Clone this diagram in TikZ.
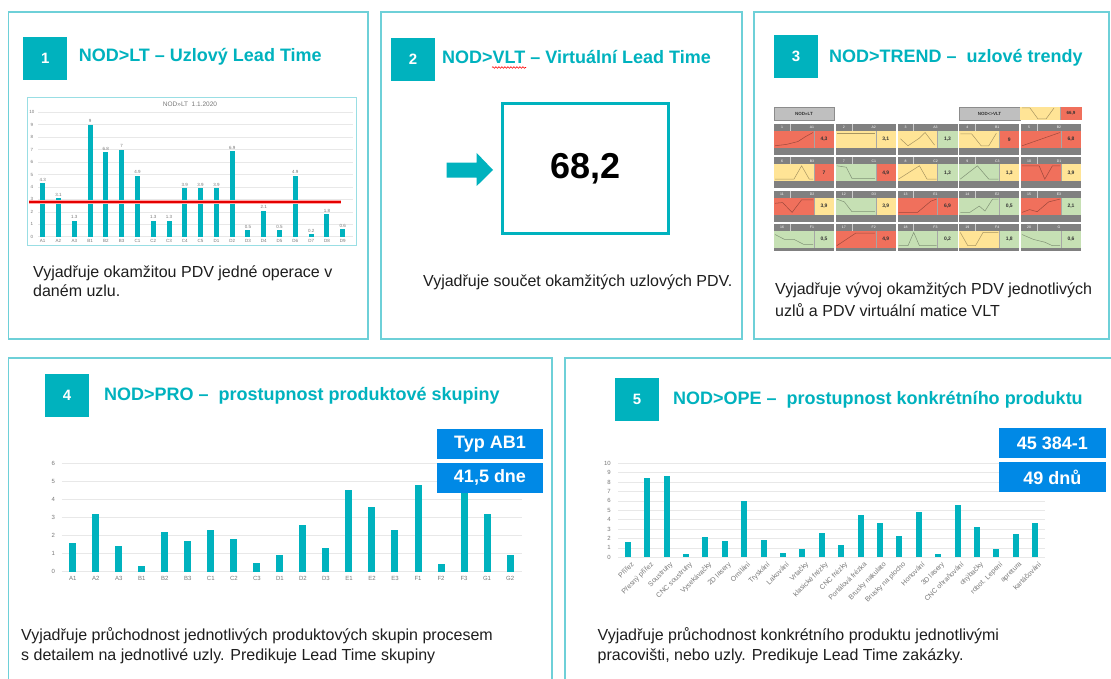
\documentclass[tikz,border=0pt]{standalone}
\usepackage{fontspec}
\setmainfont{Liberation Sans}
\usetikzlibrary{decorations.pathmorphing}
\definecolor{teal1}{RGB}{0,178,190}
\definecolor{pborder}{RGB}{110,208,216}
\definecolor{badge}{RGB}{0,137,230}
\definecolor{tred}{RGB}{240,112,92}
\definecolor{tyel}{RGB}{255,228,150}
\definecolor{tgrn}{RGB}{198,224,180}
\definecolor{tgrey}{RGB}{128,128,128}
\definecolor{axgrey}{RGB}{120,120,120}
\definecolor{gridc}{RGB}{232,232,232}
\definecolor{txt}{RGB}{30,30,30}
\tikzset{
  panel/.style={draw=pborder, line width=1.2pt},
  numsq/.style={fill=teal1, minimum width=44pt, minimum height=43pt, inner sep=0pt, text=white, font=\fontsize{15}{18}\selectfont\bfseries},
  ptitle/.style={text=teal1, font=\fontsize{18}{21}\selectfont\bfseries, anchor=base west, inner sep=0pt},
  body/.style={font=\fontsize{16}{19}\selectfont, anchor=base west, inner sep=0pt, text=txt},
  bar/.style={fill=teal1},
  ax/.style={font=\fontsize{6}{7}\selectfont, text=axgrey, inner sep=0pt},
  vlab/.style={font=\fontsize{4.5}{5}\selectfont, text=axgrey, inner sep=0pt, anchor=south},
  gridl/.style={draw=gridc, line width=0.8pt},
  badgebox/.style={fill=badge, text=white, font=\fontsize{18}{21}\selectfont\bfseries, minimum width=106.6pt, minimum height=30pt, inner sep=0pt},
  tnum/.style={font=\fontsize{3.5}{4}\selectfont, text=white, inner sep=0pt},
  tval/.style={font=\fontsize{5}{6}\selectfont\bfseries, text=black!80, inner sep=0pt},
  spark/.style={draw=black, draw opacity=0.35, line width=0.5pt},
}
\newcommand\trtile[8]{%
  \begin{scope}[shift={({774+#1*61.75},{124+#2*33.3})}]
    \fill[tgrey] (0,0) rectangle (60,7);
    \fill[#5] (0,7) rectangle (40,24);
    \fill[#6] (40,7) rectangle (60,24);
    \draw[black!35, line width=0.5pt] (40,7) -- (40,24);
    \fill[tgrey] (0,24) rectangle (60,31);
    \draw[white!60!tgrey, line width=0.4pt] (16,0) -- (16,7);
    \node[tnum] (tn#3) at (8,3.5) {#3};
    \node[tnum] (tl#3) at (38,3.5) {#4};
    \node[tval] (tv#3) at (50,15.5) {#7};
    \begin{scope}[shift={(1,22.5)}, xscale=38, yscale=-14]
      \draw[spark] plot coordinates {#8};
    \end{scope}
  \end{scope}}
\begin{document}
\begin{tikzpicture}[x=1pt,y=-1pt]
\useasboundingbox (0,0) rectangle (1111,679);
\fill[white] (0,0) rectangle (1111,679);
\begin{scope}
\clip (0,0) rectangle (1111,679);
% ---------- panels ----------
\draw[panel] (8.6,12) rectangle (368,339);
\draw[panel] (381,12) rectangle (742,339);
\draw[panel] (754,12) rectangle (1109,339);
\draw[panel] (8.6,358) rectangle (552,690);
\draw[panel] (565,358) rectangle (1120,690);

% ---------- headers ----------
\node[numsq] (n1) at (45.2,58.5) {1};
\node[ptitle] (t1) at (78.6,61.7) {NOD>LT – Uzlový Lead Time};
\node[numsq] (n2) at (413,59.5) {2};
\node[ptitle] (t2) at (442,64) {NOD>VLT – Virtuální Lead Time};
\coordinate (wv1) at (492,67.5);
\coordinate (wv2) at (526,67.5);
\draw[red, line width=0.6pt, decorate, decoration={snake, amplitude=0.8pt, segment length=3pt}] (wv1) -- (wv2);
\node[numsq] (n3) at (796,56.5) {3};
\node[ptitle] (t3) at (829,62.5) {NOD>TREND –~ uzlové trendy};
\node[numsq] (n4) at (67,395) {4};
\node[ptitle] (t4) at (104,400) {NOD>PRO –~ prostupnost produktové skupiny};
\node[numsq] (n5) at (637,399.5) {5};
\node[ptitle] (t5) at (673,404.5) {NOD>OPE –~ prostupnost konkrétního produktu};

% ---------- panel 1 chart ----------
\draw[draw=pborder!70, line width=0.8pt] (27,97.7) rectangle (356,245);
\node[font=\fontsize{6.5}{8}\selectfont, text=axgrey, inner sep=0pt] (c1t) at (190,104.3) {NOD>>LT~ 1.1.2020};
\foreach \k in {0,...,10} {
  \draw[gridl, line width=0.5pt] (38,{236.7-\k*12.44}) -- (353,{236.7-\k*12.44});
  \node[ax, font=\fontsize{4.5}{5}\selectfont] (c1y\k) at (32,{236.7-\k*12.44}) {\k};
}
\foreach \v/\l [count=\i from 0] in {4.3/A1,3.1/A2,1.3/A3,9/B1,6.8/B2,7/B3,4.9/C1,1.3/C2,1.3/C3,3.9/C4,3.9/C5,3.9/D1,6.9/D2,0.5/D3,2.1/D4,0.5/D5,4.9/D6,0.2/D7,1.8/D8,0.6/D9} {
  \fill[bar] ({42.7+\i*15.79-2.5},236.7) rectangle ({42.7+\i*15.79+2.5},{236.7-\v*12.44});
  \node[vlab] (c1v\i) at ({42.7+\i*15.79},{235.2-\v*12.44}) {\v};
  \node[ax, font=\fontsize{4.5}{5}\selectfont] (c1x\i) at ({42.7+\i*15.79},240.7) {\l};
}
\coordinate (rl1) at (29.3,202.3);
\coordinate (rl2) at (340.7,202.3);
\draw[red!35, line width=4pt] (rl1) -- (rl2);
\draw[red!90!black, line width=2.2pt] (rl1) -- (rl2);
\node[body] (b1a) at (33,277.5) {Vyjadřuje okamžitou PDV jedné operace v};
\node[body] (b1b) at (33,296.5) {daném uzlu.};

% ---------- panel 2 ----------
\fill[teal1] (446.7,162.7) -- (476.7,162.7) -- (476.7,153) -- (493,170) -- (476.7,186) -- (476.7,177.7) -- (446.7,177.7) -- cycle;
\node[draw=teal1, line width=3pt, minimum width=166pt, minimum height=130pt, inner sep=0pt, font=\fontsize{36}{40}\selectfont\bfseries] (vlt) at (585.3,168.3) {68,2};
\node[body] (b2a) at (423,286.5) {Vyjadřuje součet okamžitých uzlových PDV.};

% ---------- panel 3 ----------
\node[draw=black!45, fill=black!25, line width=0.6pt, minimum width=60pt, minimum height=13pt, inner sep=0pt, font=\fontsize{4.5}{5}\selectfont\bfseries, text=black!80] (h1) at (804,113.5) {NOD>>LT};
\node[draw=black!45, fill=black!25, line width=0.6pt, minimum width=61pt, minimum height=13pt, inner sep=0pt, font=\fontsize{4.5}{5}\selectfont\bfseries, text=black!80] (h2) at (989.5,113.5) {NOD<>VLT};
\fill[tyel] (1020,107) rectangle (1060,120);
\draw[spark] (1022,108) -- (1030,108) -- (1038,119) -- (1046,119) -- (1054,108);
\node[fill=tred, minimum width=22pt, minimum height=13pt, inner sep=0pt, font=\fontsize{4.5}{5}\selectfont\bfseries, text=black!80] (h3) at (1071,113.5) {66,9};
\draw[black!35, line width=0.5pt] (1060,107) -- (1060,120);
\begin{scope}
\clip (770,100) rectangle (1100,250);
\trtile{0}{0}{1}{A1}{tred}{tred}{4,3}{(0,0.05) (0.3,0.15) (0.6,0.35) (0.8,0.7) (1,1)}
\trtile{1}{0}{2}{A2}{tyel}{tyel}{3,1}{(0,0.95) (1,0.95)}
\trtile{2}{0}{3}{A3}{tyel}{tgrn}{1,3}{(0.05,0.55) (0.25,0.05) (0.55,0.6) (0.7,1) (0.95,0.1)}
\trtile{3}{0}{4}{B1}{tyel}{tred}{9}{(0,0.9) (0.3,0.9) (0.55,0.05) (0.75,0.05) (0.95,0.95)}
\trtile{4}{0}{5}{B2}{tred}{tred}{6,8}{(0,0.05) (1,1)}
\trtile{0}{1}{6}{B3}{tyel}{tred}{7}{(0,0.05) (0.5,0.05) (0.7,1) (0.9,0.05) (1,0.05)}
\trtile{1}{1}{7}{C1}{tgrn}{tred}{4,9}{(0,1) (0.25,0.9) (0.4,0.1) (1,0.1)}
\trtile{2}{1}{8}{C2}{tyel}{tgrn}{1,3}{(0,0.05) (0.55,1) (0.75,0.05) (1,0.05)}
\trtile{3}{1}{9}{C3}{tgrn}{tyel}{1,3}{(0,0.05) (0.45,1) (0.75,0.05) (1,0.05)}
\trtile{4}{1}{10}{D1}{tred}{tyel}{3,9}{(0,1) (0.45,1) (0.6,0.05) (0.8,1) (1,1)}
\trtile{0}{2}{11}{D2}{tred}{tyel}{3,9}{(0,0.7) (0.2,0.75) (0.45,0.05) (0.7,0.95) (1,0.95)}
\trtile{1}{2}{12}{D3}{tgrn}{tyel}{3,9}{(0,1) (0.2,0.8) (0.4,0.1) (1,0.1)}
\trtile{2}{2}{13}{E1}{tred}{tred}{6,9}{(0,0.05) (0.5,0.05) (0.85,0.85) (1,1)}
\trtile{3}{2}{14}{E2}{tgrn}{tgrn}{0,5}{(0,0.05) (0.25,0.05) (0.5,0.5) (0.65,0.15) (0.85,1) (1,1)}
\trtile{4}{2}{15}{E3}{tred}{tgrn}{2,1}{(0,0.05) (0.2,0.25) (0.4,0.1) (0.7,0.8) (1,1)}
\trtile{0}{3}{16}{F1}{tgrn}{tgrn}{0,5}{(0,0.85) (0.25,0.5) (0.5,0.5) (0.75,0.15) (1,0.15)}
\trtile{1}{3}{17}{F2}{tred}{tred}{4,9}{(0,0.05) (0.5,0.95) (1,0.95)}
\trtile{2}{3}{18}{F3}{tgrn}{tgrn}{0,2}{(0,0.05) (0.25,0.05) (0.4,1) (0.55,0.05) (1,0.05)}
\trtile{3}{3}{19}{F4}{tyel}{tgrn}{1,8}{(0,1) (0.2,0.05) (0.4,0.05) (0.6,1) (1,1)}
\trtile{4}{3}{20}{G}{tgrn}{tgrn}{0,6}{(0,0.85) (0.3,0.5) (0.6,0.3) (0.8,0.05) (1,0.05)}
\end{scope}
\node[body] (b3a) at (775,294) {Vyjadřuje vývoj okamžitých PDV jednotlivých};
\node[body] (b3b) at (775,316) {uzlů a PDV virtuální matice VLT};

% ---------- panel 4 chart ----------
\foreach \k in {0,...,6} {
  \draw[gridl] (61.7,{571.7-\k*18.07}) -- (521.7,{571.7-\k*18.07});
  \node[ax] (c4y\k) at (53.3,{571.7-\k*18.07}) {\k};
}
\foreach \v/\l [count=\i from 0] in {1.6/A1,3.2/A2,1.4/A3,0.3/B1,2.2/B2,1.7/B3,2.3/C1,1.8/C2,0.5/C3,0.9/D1,2.6/D2,1.3/D3,4.5/E1,3.6/E2,2.3/E3,4.8/F1,0.4/F2,5.4/F3,3.2/G1,0.9/G2} {
  \fill[bar] ({72.7+\i*23.02-3.5},571.7) rectangle ({72.7+\i*23.02+3.5},{571.7-\v*18.07});
  \node[ax] (c4x\i) at ({72.7+\i*23.02},578) {\l};
}
\node[badgebox] (bg1) at (490,444.3) {Typ AB1};
\node[badgebox] (bg2) at (490,477.7) {41,5 dne};
\node[body] (b4a) at (21,640) {Vyjadřuje průchodnost jednotlivých produktových skupin procesem};
\node[body] (b4b) at (21,660) {s detailem na jednotlivé uzly. Predikuje Lead Time skupiny};

% ---------- panel 5 chart ----------
\foreach \k in {0,...,10} {
  \draw[gridl] (618.3,{557.3-\k*9.4}) -- (1045,{557.3-\k*9.4});
  \node[ax, anchor=east] (c5y\k) at (611,{557.3-\k*9.4}) {\k};
}
\foreach \v/\l [count=\i from 0] in {1.6/Přířez,8.4/Přesný přířez,8.6/Soustruhy,0.3/CNC soustruhy,2.2/Vysekávačky,1.7/2D lasery,6.0/Omílání,1.8/Tryskání,0.5/Lakování,0.9/Vrtačky,2.6/klasické frézky,1.3/CNC frézky,4.5/Portálová frézka,3.6/Brusky nakulato,2.3/Brusky na plocho,4.8/Honování,0.4/3D lasery,5.6/CNC ohraňování,3.2/ohýbačky,0.9/robot. Lepení,2.5/apretura,3.6/kartáčování} {
  \fill[bar] ({627.7+\i*19.4-3},557.3) rectangle ({627.7+\i*19.4+3},{557.3-\v*9.4});
  \node[ax, font=\fontsize{7}{8}\selectfont, rotate=45, anchor=north east] (c5x\i) at ({627.7+\i*19.4+3},561) {\l};
}
\node[badgebox] (bg3) at (1052.4,443.3) {45 384-1};
\node[badgebox] (bg4) at (1052.4,477.2) {49 dnů};
\node[body] (b5a) at (597.5,640) {Vyjadřuje průchodnost konkrétního produktu jednotlivými};
\node[body] (b5b) at (597.5,660) {pracovišti, nebo uzly. Predikuje Lead Time zakázky.};
\end{scope}
\end{tikzpicture}
\end{document}
